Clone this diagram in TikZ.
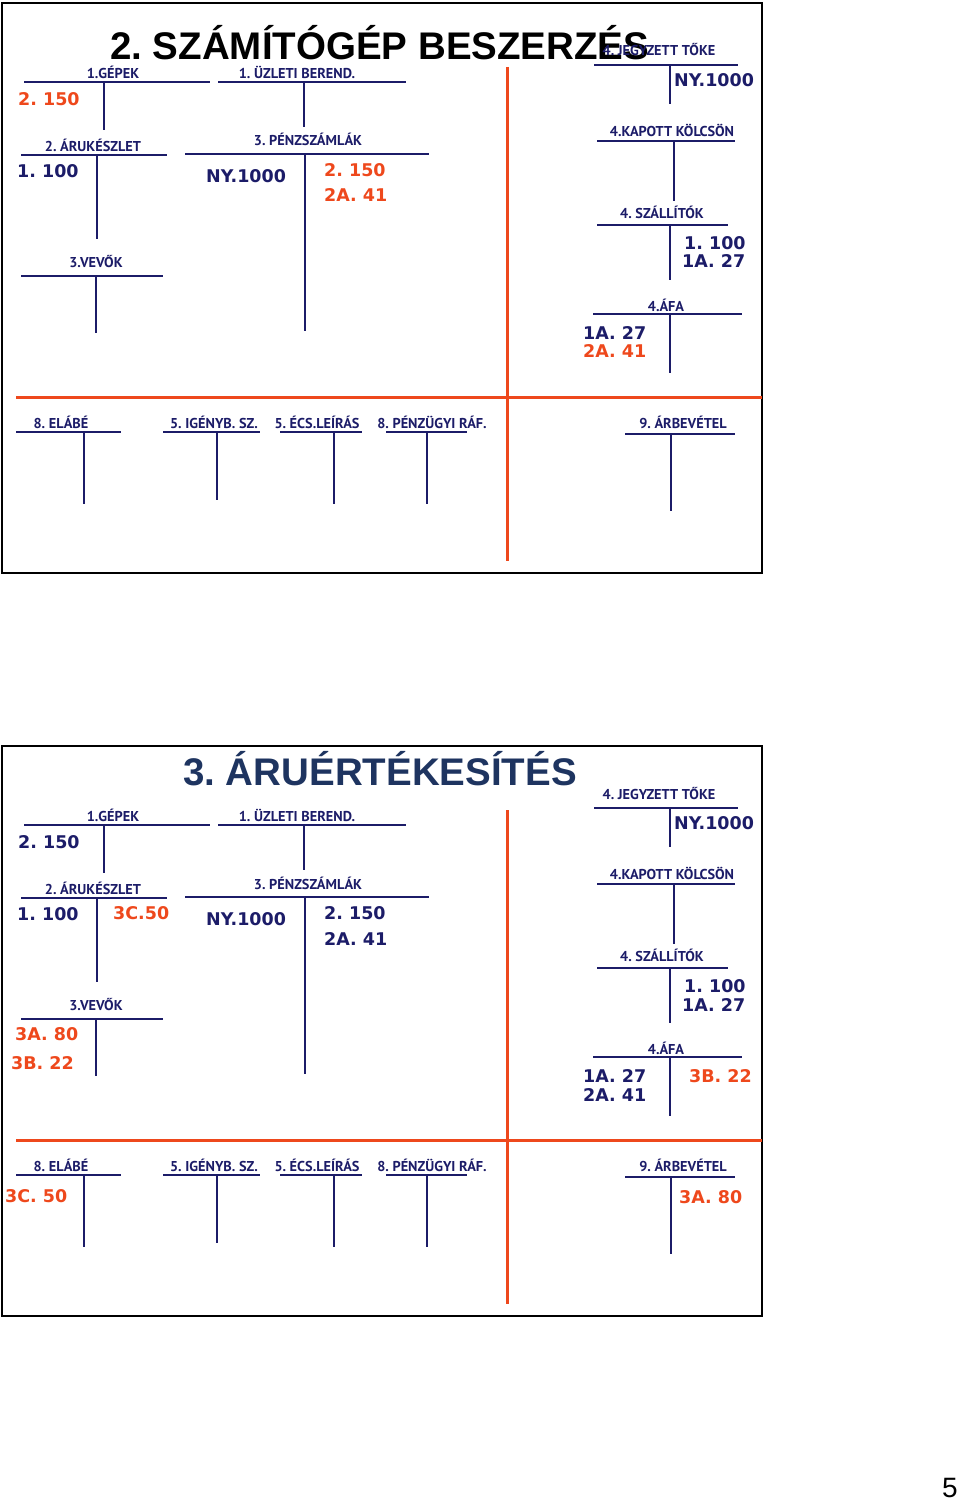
\documentclass[tikz,border=0pt]{standalone}
\usepackage{fontspec}
\setmainfont{Liberation Sans}
\newfontfamily\acctfont{PT Sans}
\newfontfamily\numfont{DejaVu Sans}
\definecolor{navy}{RGB}{28,28,104}
\definecolor{rust}{RGB}{238,72,28}
\definecolor{slate}{RGB}{30,52,96}
\frenchspacing

\begin{document}
\begin{tikzpicture}[x=1pt, y=-1pt,
    tline/.style={navy, line width=2.8pt},
    split/.style={rust, line width=3pt},
    acct/.style={font=\acctfont\bfseries\fontsize{14.3}{16}\selectfont, text=navy, anchor=base, inner sep=0pt},
    num/.style={font=\numfont\bfseries\fontsize{17.5}{20}\selectfont, text=navy, anchor=west, inner sep=0pt},
    hot/.style={num, text=rust},
    ttl/.style={font=\bfseries\fontsize{38.5}{40}\selectfont, anchor=base west, inner sep=0pt}]
  \useasboundingbox (0,0) rectangle (960,1501);

  % titles
  \node[ttl] (titleA) at (110,60) {2. SZÁMÍTÓGÉP BESZERZÉS};
  \node[ttl, text=slate] (titleB) at (183,785) {3. ÁRUÉRTÉKESÍTÉS};

  % both slides share the same T accounts
  \foreach \dy/\s in {0/a, 743/b} {
    \begin{scope}[shift={(0,\dy)}]
      \draw[line width=1.8pt] (2,3) rectangle (762,573);
      \draw[split] (507,67) -- (507,561);
      \draw[split] (16,397) -- (762,397);
      \foreach \n/\t/\lx/\ly/\xa/\xb/\hy/\vx/\ey in {
          gep/{1.GÉPEK}/113/78.5/24/210/82/104/130,
          uzl/{1. ÜZLETI BEREND.}/297/78.5/218/406/82/304/127,
          aru/{2. ÁRUKÉSZLET}/93/151.5/21/167/155/97/239,
          penz/{3. PÉNZSZÁMLÁK}/308/146/185/429/154/305/331,
          vevo/{3.VEVŐK}/96/267.5/21/163/276/96/333,
          jegy/{4. JEGYZETT TŐKE}/659/56/594/738/65/670/104,
          kap/{4.KAPOTT KÖLCSÖN}/672/136/597/735/141/674/201,
          szal/{4. SZÁLLÍTÓK}/662/218/597/728/225/670/280,
          afa/{4.ÁFA}/666/311/593/742/314/670/373,
          elabe/{8. ELÁBÉ}/61/428/16/121/432/84/504,
          igeny/{5. IGÉNYB. SZ.}/214/428/163/260/432/217/500,
          ecs/{5. ÉCS.LEÍRÁS}/317/428/280/362/432/334/504,
          praf/{8. PÉNZÜGYI RÁF.}/432/428/386/467/432/427/504,
          arbev/{9. ÁRBEVÉTEL}/683/428/625/735/434/671/511}
      {
        \node[acct] (\n\s) at (\lx,\ly) {\t};
        \draw[tline] (\xa,\hy) -- (\xb,\hy) (\vx,\hy) -- (\vx,\ey);
      }
    \end{scope}
  }

  % slide 2 entries
  \node[hot] (gepA1) at (18,99) {2. 150};
  \node[num] (aruA1) at (17,171) {1. 100};
  \node[num] (penzA1) at (206,176) {NY.1000};
  \node[hot] (penzA2) at (324,170) {2. 150};
  \node[hot] (penzA3) at (324,195.5) {2A. 41};
  \node[num] (jegyA1) at (674,80) {NY.1000};
  \node[num] (szalA1) at (684,243) {1. 100};
  \node[num] (szalA2) at (682,261.5) {1A. 27};
  \node[num] (afaA1) at (583,333) {1A. 27};
  \node[hot] (afaA2) at (583,351.5) {2A. 41};

  % slide 3 entries
  \node[num] (gepB1) at (18,842) {2. 150};
  \node[num] (aruB1) at (17,914) {1. 100};
  \node[hot] (aruB2) at (113,913.5) {3C.50};
  \node[num] (penzB1) at (206,919) {NY.1000};
  \node[num] (penzB2) at (324,913) {2. 150};
  \node[num] (penzB3) at (324,938.5) {2A. 41};
  \node[hot] (vevoB1) at (15,1034) {3A. 80};
  \node[hot] (vevoB2) at (11,1063) {3B. 22};
  \node[num] (jegyB1) at (674,823) {NY.1000};
  \node[num] (szalB1) at (684,986) {1. 100};
  \node[num] (szalB2) at (682,1004.5) {1A. 27};
  \node[num] (afaB1) at (583,1076) {1A. 27};
  \node[num] (afaB2) at (583,1094.5) {2A. 41};
  \node[hot] (afaB3) at (689,1076.5) {3B. 22};
  \node[hot] (elabeB1) at (5,1196) {3C. 50};
  \node[hot] (arbevB1) at (679,1197) {3A. 80};

  % page number
  \node (page) at (950,1488) {\fontsize{28}{30}\selectfont 5};
\end{tikzpicture}
\end{document}
